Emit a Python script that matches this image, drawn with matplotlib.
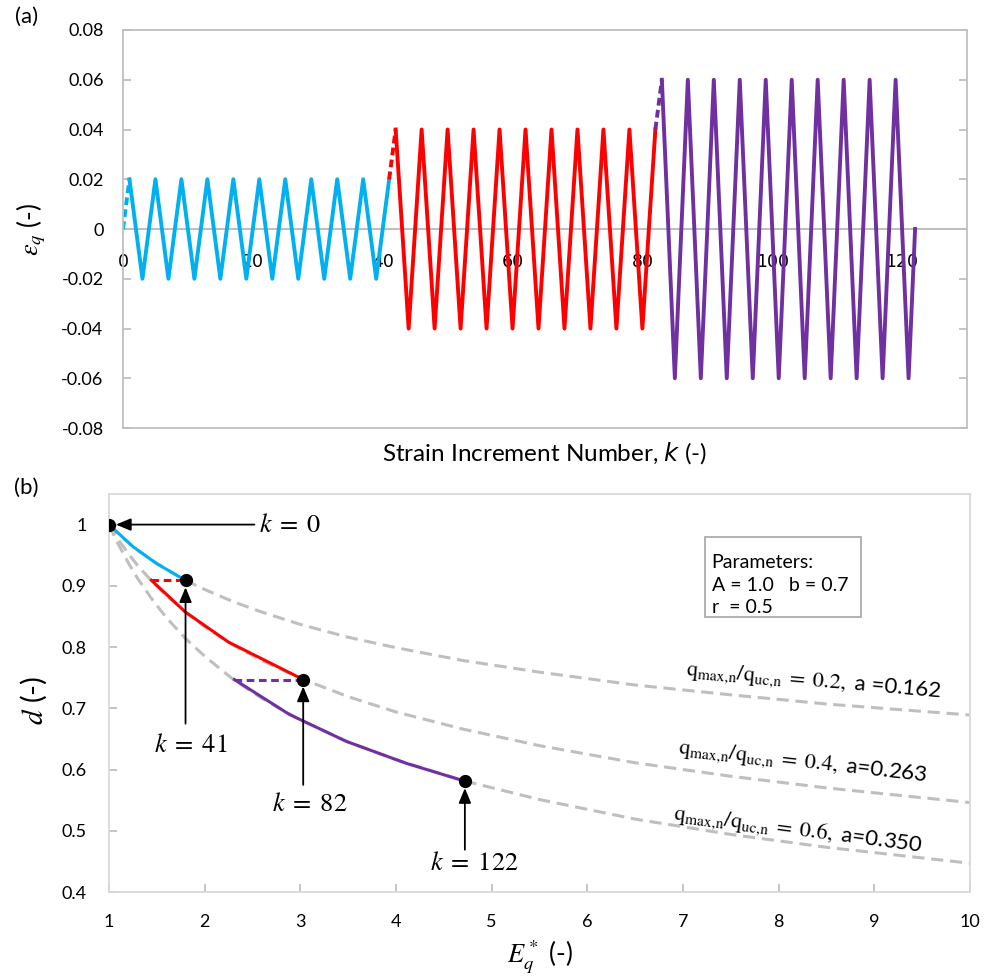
import matplotlib.pyplot as plt
from matplotlib.patches import Rectangle

# --- panel (a): strain history ---
blue_dash_k = [0, 1]
blue_dash_e = [0.0, 0.02]
blue_k = [1, 3, 5, 7, 9, 11, 13, 15, 17, 19, 21, 23, 25, 27, 29, 31, 33, 35, 37, 39, 41]
blue_e = [0.02, -0.02, 0.02, -0.02, 0.02, -0.02, 0.02, -0.02, 0.02, -0.02, 0.02,
          -0.02, 0.02, -0.02, 0.02, -0.02, 0.02, -0.02, 0.02, -0.02, 0.02]

red_dash_k = [41, 42]
red_dash_e = [0.02, 0.04]
red_k = [42, 44, 46, 48, 50, 52, 54, 56, 58, 60, 62, 64, 66, 68, 70, 72, 74, 76, 78, 80, 82]
red_e = [0.04, -0.04, 0.04, -0.04, 0.04, -0.04, 0.04, -0.04, 0.04, -0.04, 0.04,
         -0.04, 0.04, -0.04, 0.04, -0.04, 0.04, -0.04, 0.04, -0.04, 0.04]

purple_dash_k = [82, 83]
purple_dash_e = [0.04, 0.06]
purple_k = [83, 85, 87, 89, 91, 93, 95, 97, 99, 101, 103, 105, 107, 109, 111, 113,
            115, 117, 119, 121, 122]
purple_e = [0.06, -0.06, 0.06, -0.06, 0.06, -0.06, 0.06, -0.06, 0.06, -0.06, 0.06,
            -0.06, 0.06, -0.06, 0.06, -0.06, 0.06, -0.06, 0.06, -0.06, 0.0]

k_ticks = [0, 20, 40, 60, 80, 100, 120]
eps_ticks = [-0.08, -0.06, -0.04, -0.02, 0, 0.02, 0.04, 0.06, 0.08]
eps_labels = ['-0.08', '-0.06', '-0.04', '-0.02', '0', '0.02', '0.04', '0.06', '0.08']

# --- panel (b): degradation curves d vs E*_q ---
E_grid = [1, 1.05, 1.1, 1.2, 1.3, 1.45, 1.6, 1.8, 2, 2.3, 2.6, 3, 3.5, 4, 4.7,
          5.5, 6.5, 7.5, 8.5, 10]
d_02 = [1.0, 0.992, 0.985, 0.971, 0.958, 0.942, 0.927, 0.909, 0.894, 0.874, 0.857,
        0.837, 0.816, 0.799, 0.778, 0.759, 0.738, 0.722, 0.707, 0.689]
d_04 = [1.0, 0.987, 0.975, 0.953, 0.933, 0.907, 0.884, 0.857, 0.833, 0.803, 0.778,
        0.749, 0.719, 0.694, 0.666, 0.639, 0.611, 0.589, 0.570, 0.546]
d_06 = [1.0, 0.983, 0.967, 0.938, 0.912, 0.878, 0.848, 0.814, 0.785, 0.747, 0.716,
        0.681, 0.645, 0.616, 0.582, 0.551, 0.519, 0.494, 0.473, 0.447]

blue_E = [1.0, 1.25, 1.5, 1.8]
blue_d = [1.0, 0.964, 0.936, 0.909]
red_E = [1.443, 1.8, 2.25, 3.03]
red_d = [0.909, 0.857, 0.808, 0.747]
red_step_E = [1.443, 1.8]
red_step_d = [0.909, 0.909]
purple_E = [2.31, 2.885, 3.48, 4.11, 4.72]
purple_d = [0.747, 0.690, 0.646, 0.610, 0.581]
purple_step_E = [2.31, 3.03]
purple_step_d = [0.747, 0.747]

mark_E = [1.0, 1.8, 3.03, 4.72]
mark_d = [1.0, 0.909, 0.747, 0.581]

E_ticks = [1, 2, 3, 4, 5, 6, 7, 8, 9, 10]
d_ticks = [0.4, 0.5, 0.6, 0.7, 0.8, 0.9, 1.0]
d_labels = ['0.4', '0.5', '0.6', '0.7', '0.8', '0.9', '1']

BLUE = '#00b0f0'
RED = '#ff0000'
PURPLE = '#7030a0'
GRID = '#bfbfbf'

plt.rcParams['font.family'] = 'Lato'
plt.rcParams['mathtext.fontset'] = 'stix'

fig = plt.figure(figsize=(9.9, 9.77), dpi=100)
ax1 = fig.add_axes([0.1242, 0.5619, 0.8526, 0.4074])
ax2 = fig.add_axes([0.1101, 0.0870, 0.8697, 0.4074])

# ---------- panel (a) ----------
dash = (0, (2.0, 1.1))
ax1.axhline(0, color=GRID, lw=1.5, zorder=1)
ax1.plot(blue_dash_k, blue_dash_e, color=BLUE, lw=2.8, ls=dash)
ax1.plot(blue_k, blue_e, color=BLUE, lw=2.8)
ax1.plot(red_dash_k, red_dash_e, color=RED, lw=2.8, ls=dash)
ax1.plot(red_k, red_e, color=RED, lw=2.8)
ax1.plot(purple_dash_k, purple_dash_e, color=PURPLE, lw=2.8, ls=dash)
ax1.plot(purple_k, purple_e, color=PURPLE, lw=2.8)

ax1.set_xlim(0, 130)
ax1.set_ylim(-0.08, 0.08)
ax1.set_yticks(eps_ticks, eps_labels)
ax1.tick_params(axis='y', direction='in', length=6, color=GRID, width=1.3,
                pad=14, labelsize=13, right=True)
ax1.tick_params(axis='x', bottom=False, labelbottom=False)
for s in ax1.spines.values():
    s.set_color(GRID)
    s.set_linewidth(1.3)

sec = ax1.secondary_xaxis(0.5)
sec.set_alignment('bottom')
sec.set_xticks(k_ticks, [str(k) for k in k_ticks], fontfamily='DejaVu Sans', fontsize=12.5)
sec.tick_params(length=0, pad=17)
sec.set_zorder(0.5)
for s in sec.spines.values():
    s.set_visible(False)

fig.text(545 / 990, 1 - 453 / 977, 'Strain Increment Number, $\\it{k}$ (-)',
         ha='center', va='center', fontsize=17.5, math_fontfamily='dejavusans')
fig.text(0.032, 1 - 229 / 977, r'$\varepsilon_q$ (-)', rotation=90,
         ha='center', va='center', fontsize=19)
fig.text(0.027, 1 - 17 / 977, '(a)', ha='center', va='center', fontsize=16)

# ---------- panel (b) ----------
for dd in (d_02, d_04, d_06):
    ax2.plot(E_grid, dd, color=GRID, lw=2.2, ls=(0, (4, 2.2)), zorder=1)

ax2.plot(blue_E, blue_d, color=BLUE, lw=2.2, zorder=2)
ax2.plot(red_step_E, red_step_d, color=RED, lw=2.2, ls=(0, (2.5, 1.5)), zorder=2)
ax2.plot(red_E, red_d, color=RED, lw=2.2, zorder=2)
ax2.plot(purple_step_E, purple_step_d, color=PURPLE, lw=2.2, ls=(0, (2.5, 1.5)), zorder=2)
ax2.plot(purple_E, purple_d, color=PURPLE, lw=2.2, zorder=2)
ax2.plot(mark_E, mark_d, 'o', color='black', ms=8.5, zorder=4)

arrow = dict(arrowstyle='-|>,head_length=0.6,head_width=0.25', color='black',
             lw=1.3, mutation_scale=15, shrinkA=0, shrinkB=5)
ax2.annotate('', xy=(mark_E[0], mark_d[0]), xytext=(2.52, 1.0), arrowprops=arrow)
ax2.text(2.57, 1.0, r'$k\;=\;0$', ha='left', va='center', fontsize=19)
ax2.annotate('', xy=(mark_E[1], mark_d[1]), xytext=(1.8, 0.675), arrowprops=arrow)
ax2.text(1.85, 0.641, r'$k\;=\;41$', ha='center', va='center', fontsize=19)
ax2.annotate('', xy=(mark_E[2], mark_d[2]), xytext=(3.03, 0.575), arrowprops=arrow)
ax2.text(3.1, 0.544, r'$k\;=\;82$', ha='center', va='center', fontsize=19)
ax2.annotate('', xy=(mark_E[3], mark_d[3]), xytext=(4.72, 0.469), arrowprops=arrow)
ax2.text(4.82, 0.448, r'$k\;=\;122$', ha='center', va='center', fontsize=19)

ratio = r'$\mathrm{q_{max{,}n}/q_{uc{,}n}}\;=\;'
ax2.text(8.36, 0.743, ratio + r'\mathit{0.2,}$ a =0.162',
         ha='center', va='center', rotation=-5, rotation_mode='anchor', fontsize=16)
ax2.text(8.25, 0.611, ratio + r'\mathit{0.4,}$ a=0.263',
         ha='center', va='center', rotation=-6.5, rotation_mode='anchor', fontsize=16)
ax2.text(8.2, 0.500, ratio + r'\mathit{0.6,}$ a=0.350',
         ha='center', va='center', rotation=-7.5, rotation_mode='anchor', fontsize=16)

ax2.add_patch(Rectangle((0.692, 0.691), 0.181, 0.201, transform=ax2.transAxes,
                        facecolor='white', edgecolor='#a6a6a6', lw=1.2, zorder=5))
ax2.text(0.700, 0.829, 'Parameters:', transform=ax2.transAxes, va='center',
         fontsize=14, zorder=6)
ax2.text(0.700, 0.771, 'A = 1.0   b = 0.7', transform=ax2.transAxes, va='center',
         fontsize=14, zorder=6)
ax2.text(0.700, 0.714, 'r  = 0.5', transform=ax2.transAxes, va='center',
         fontsize=14, zorder=6)

ax2.set_xlim(1, 10)
ax2.set_ylim(0.4, 1.05)
ax2.set_xticks(E_ticks)
ax2.set_yticks(d_ticks, d_labels)
ax2.tick_params(direction='in', length=6, color=GRID, width=1.3, pad=16, labelsize=13)
for s in ax2.spines.values():
    s.set_color('#d9d9d9')
    s.set_linewidth(1.3)

fig.text(540 / 990, 1 - 958 / 977, '$E_q^*$ (-)', ha='center', va='center', fontsize=19)
fig.text(0.034, 1 - 700 / 977, '$d$ (-)', rotation=90, ha='center', va='center',
         fontsize=21)
fig.text(0.027, 1 - 488 / 977, '(b)', ha='center', va='center', fontsize=16)

fig.savefig('out.png', dpi=100)
